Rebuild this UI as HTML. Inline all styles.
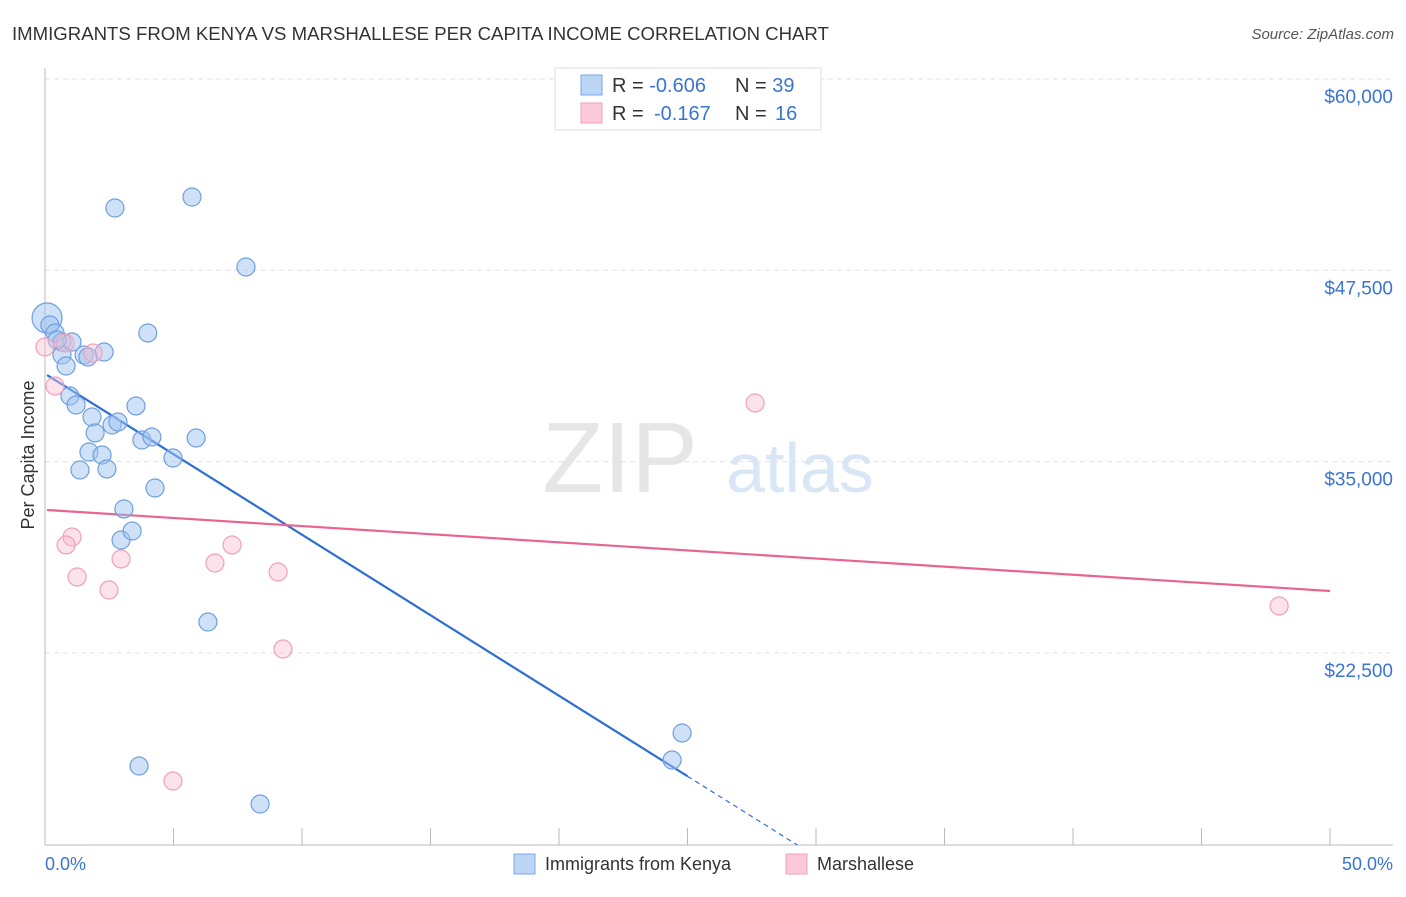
<!DOCTYPE html>
<html><head><meta charset="utf-8"><style>
body{margin:0;background:#fff;font-family:"Liberation Sans",sans-serif;}
svg text{font-family:"Liberation Sans",sans-serif;}
</style></head><body>
<svg id="c" width="1406" height="892">
<text x="12" y="40" font-size="18.6" fill="#333">IMMIGRANTS FROM KENYA VS MARSHALLESE PER CAPITA INCOME CORRELATION CHART</text>
<text x="1394" y="39" font-size="15" fill="#555" font-style="italic" text-anchor="end">Source: ZipAtlas.com</text>
<text x="620" y="492" font-size="100" fill="#e6e6e6" font-family="Liberation Serif" text-anchor="middle">ZIP</text>
<text x="800" y="492" font-size="70" fill="#d8e6f6" text-anchor="middle">atlas</text>
<g id="grid"></g><g id="axes"></g><g id="lines"></g><g id="pts"></g>
<text x="34" y="455" font-size="18" fill="#333" text-anchor="middle" transform="rotate(-90 34 455)">Per Capita Income</text>
<text x="45" y="870" font-size="18" fill="#3a75d0">0.0%</text>
<text x="1393" y="870" font-size="18" fill="#3a75d0" text-anchor="end">50.0%</text>
<g>
<rect x="555" y="68" width="266" height="62" fill="#fff" stroke="#ddd"/>
<rect x="581" y="75" width="21" height="20" fill="#bcd5f5" stroke="#7aa8e6"/>
<rect x="581" y="103" width="21" height="20" fill="#fbc9d8" stroke="#f0a0b8"/>
<text x="612" y="92" font-size="20" fill="#333">R = <tspan fill="#3a75d0">-0.606</tspan><tspan x="735">N = </tspan><tspan fill="#3a75d0">39</tspan></text>
<text x="612" y="120" font-size="20" fill="#333">R = <tspan x="654" fill="#3a75d0">-0.167</tspan><tspan x="735">N = </tspan><tspan x="775" fill="#3a75d0">16</tspan></text>
</g>
<g>
<rect x="514" y="854" width="21" height="20" fill="#bcd5f5" stroke="#7aa8e6"/>
<text x="545" y="870" font-size="18" fill="#333">Immigrants from Kenya</text>
<rect x="786" y="854" width="21" height="20" fill="#fbc9d8" stroke="#f0a0b8"/>
<text x="817" y="870" font-size="18" fill="#333">Marshallese</text>
</g>
</svg>
<script>
const yTicks=[60000,47500,35000,22500];
const yTickLabels=["$60,000","$47,500","$35,000","$22,500"];
const xTicks=[0,5,10,15,20,25,30,35,40,45,50];
const kenyaX=[0.08,0.19,0.39,0.66,1.05,0.66,1.52,2.3,0.82,4.0,2.72,5.72,7.82,0.97,1.21,1.83,1.95,2.61,2.84,3.54,3.77,4.16,4.98,5.88,1.71,2.22,1.36,2.41,4.28,3.07,2.96,3.39,6.34,24.79,24.4,3.66,8.37,1.67,0.47];
const kenyaY=[44384,43927,43404,42815,42815,41966,41966,42162,41247,43404,51571,52290,47716,39287,38699,37915,36870,37392,37588,38634,36411,36608,35236,36542,35628,35432,34452,34518,33276,31904,29878,30466,24520,17268,15503,15111,12628,41835,42946];
const marshX=[0,0.39,0.78,1.87,1.05,0.82,1.25,2.49,2.96,6.61,7.28,9.07,9.26,4.98,27.63,48.02];
const marshY=[42489,39941,42750,42097,30074,29552,27461,26611,28637,28375,29552,27787,22756,14131,38830,25566];
const kenyaTrend=[40743,-1052];
const marshTrend=[31838,-105.8];
const NS='http://www.w3.org/2000/svg';
const X=p=>45+p*25.7, Y=v=>79+(60000-v)/65.34;
function mk(parent,tag,attrs){const e=document.createElementNS(NS,tag);for(const k in attrs)e.setAttribute(k,attrs[k]);document.getElementById(parent).appendChild(e);return e;}
yTicks.forEach((t,i)=>{
 const l=mk('grid','line',{x1:45,x2:1393,y1:Y(t),y2:Y(t),stroke:'#e2e2e2','stroke-dasharray':'5,4'});
 
 
 const tx=mk('grid','text',{x:1393,y:Y(t)+24,'font-size':19,fill:'#3a75d0','text-anchor':'end'});
 tx.textContent=yTickLabels[i];
 
 
});
const ax=mk('axes','line',{x1:45,x2:45,y1:68,y2:845,stroke:'#bbb'});


const bx=mk('axes','line',{x1:45,x2:1393,y1:845,y2:845,stroke:'#bbb'});


xTicks.forEach(t=>{
 const l=mk('axes','line',{x1:X(t),x2:X(t),y1:828,y2:845,stroke:'#bbb'});
 
 
});
const yMin=60000-(845-79)*65.34;
const kEnd=25, kDash=(yMin-kenyaTrend[0])/kenyaTrend[1];
const kl=mk('lines','line',{x1:X(0.08),y1:Y(kenyaTrend[0]+kenyaTrend[1]*0.08),x2:X(kEnd),y2:Y(kenyaTrend[0]+kenyaTrend[1]*kEnd),stroke:'#2e6fd6','stroke-width':2.2});


const kd=mk('lines','line',{x1:X(kEnd),y1:Y(kenyaTrend[0]+kenyaTrend[1]*kEnd),x2:X(kDash),y2:Y(yMin),stroke:'#2e6fd6','stroke-width':1.2,'stroke-dasharray':'5,4'});


const ml=mk('lines','line',{x1:X(0.08),y1:Y(marshTrend[0]),x2:X(50),y2:Y(marshTrend[0]+marshTrend[1]*50),stroke:'#e8658f','stroke-width':2.2});


kenyaX.forEach((x,i)=>{
 const c=mk('pts','circle',{cx:X(x),cy:Y(kenyaY[i]),r:i==0?15:9,fill:'rgba(160,196,240,0.5)',stroke:'#6f9fe0','stroke-width':1.2});
 
 
});
marshX.forEach((x,i)=>{
 const c=mk('pts','circle',{cx:X(x),cy:Y(marshY[i]),r:9,fill:'rgba(248,190,208,0.45)',stroke:'#f0a0b8','stroke-width':1.2});
 
 
});
</script>
</body></html>
